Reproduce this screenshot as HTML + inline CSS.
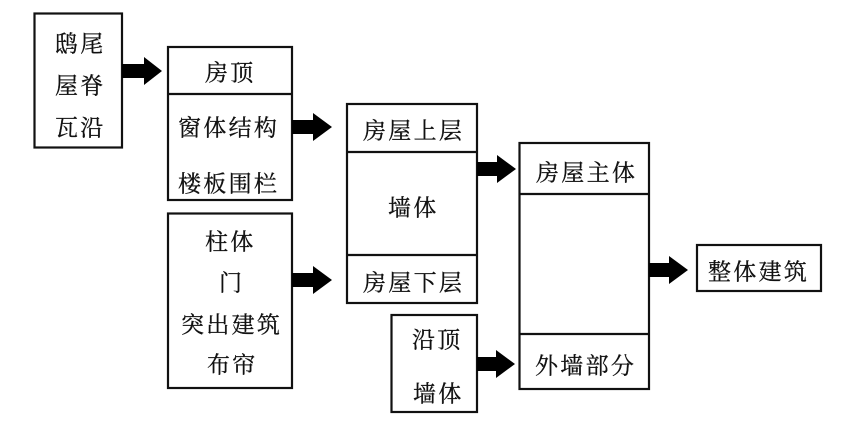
<!DOCTYPE html>
<html lang="zh">
<head>
<meta charset="utf-8">
<style>
html,body{margin:0;padding:0;background:#fff;width:856px;height:428px;overflow:hidden}
svg{display:block;filter:blur(.3px)}
text{font-family:"Noto Serif CJK SC","Noto Serif CJK JP",serif;font-size:23px;letter-spacing:2.300px;fill:#111;stroke:#111;stroke-width:.3px;dominant-baseline:central}
rect{fill:#fff;stroke:#111;stroke-width:2.200}
line{stroke:#111;stroke-width:2.200}
polygon{fill:#000}
</style>
</head>
<body>
<svg width="856" height="428" viewBox="0 0 856 428" xmlns="http://www.w3.org/2000/svg">
<rect x="34.5" y="13.5" width="87.5" height="134"/>
<rect x="168" y="47" width="124" height="153"/><line x1="168" y1="94" x2="292" y2="94"/>
<rect x="168" y="213.5" width="124" height="174.5"/>
<rect x="347" y="104" width="130" height="199"/><line x1="347" y1="152" x2="477" y2="152"/><line x1="347" y1="255" x2="477" y2="255"/>
<rect x="391.500" y="315" width="85.500" height="97"/>
<rect x="519.500" y="143" width="129.500" height="246"/><line x1="519.500" y1="194" x2="649" y2="194"/><line x1="519.500" y1="334" x2="649" y2="334"/>
<rect x="697" y="245" width="124" height="46"/>

<polygon points="122,64 144,64 144,57 162,71 144,85 144,78 122,78"/>
<polygon points="292,120 313,120 313,113 332,127 313,141 313,134 292,134"/>
<polygon points="292,273 313,273 313,266 332,280 313,294 313,287 292,287"/>
<polygon points="477,162 497,162 497,155 516,169 497,183 497,176 477,176"/>
<polygon points="477,357 496,357 496,350 515,364 496,378 496,371 477,371"/>
<polygon points="649,263 669,263 669,256 688,270 669,284 669,277 649,277"/>

<text x="55" y="42">鸱尾</text>
<text x="55" y="84">屋脊</text>
<text x="55" y="126">瓦沿</text>
<text x="205" y="71">房顶</text>
<text x="178" y="126">窗体结构</text>
<text x="178" y="182">楼板围栏</text>
<text x="205" y="240">柱体</text>
<text x="219" y="281">门</text>
<text x="181" y="323">突出建筑</text>
<text x="207" y="363">布帘</text>
<text x="363" y="129">房屋上层</text>
<text x="388" y="206">墙体</text>
<text x="363" y="281">房屋下层</text>
<text x="412" y="338">沿顶</text>
<text x="413" y="392">墙体</text>
<text x="536" y="171">房屋主体</text>
<text x="535" y="364">外墙部分</text>
<text x="708" y="270">整体建筑</text>
</svg>
</body>
</html>
